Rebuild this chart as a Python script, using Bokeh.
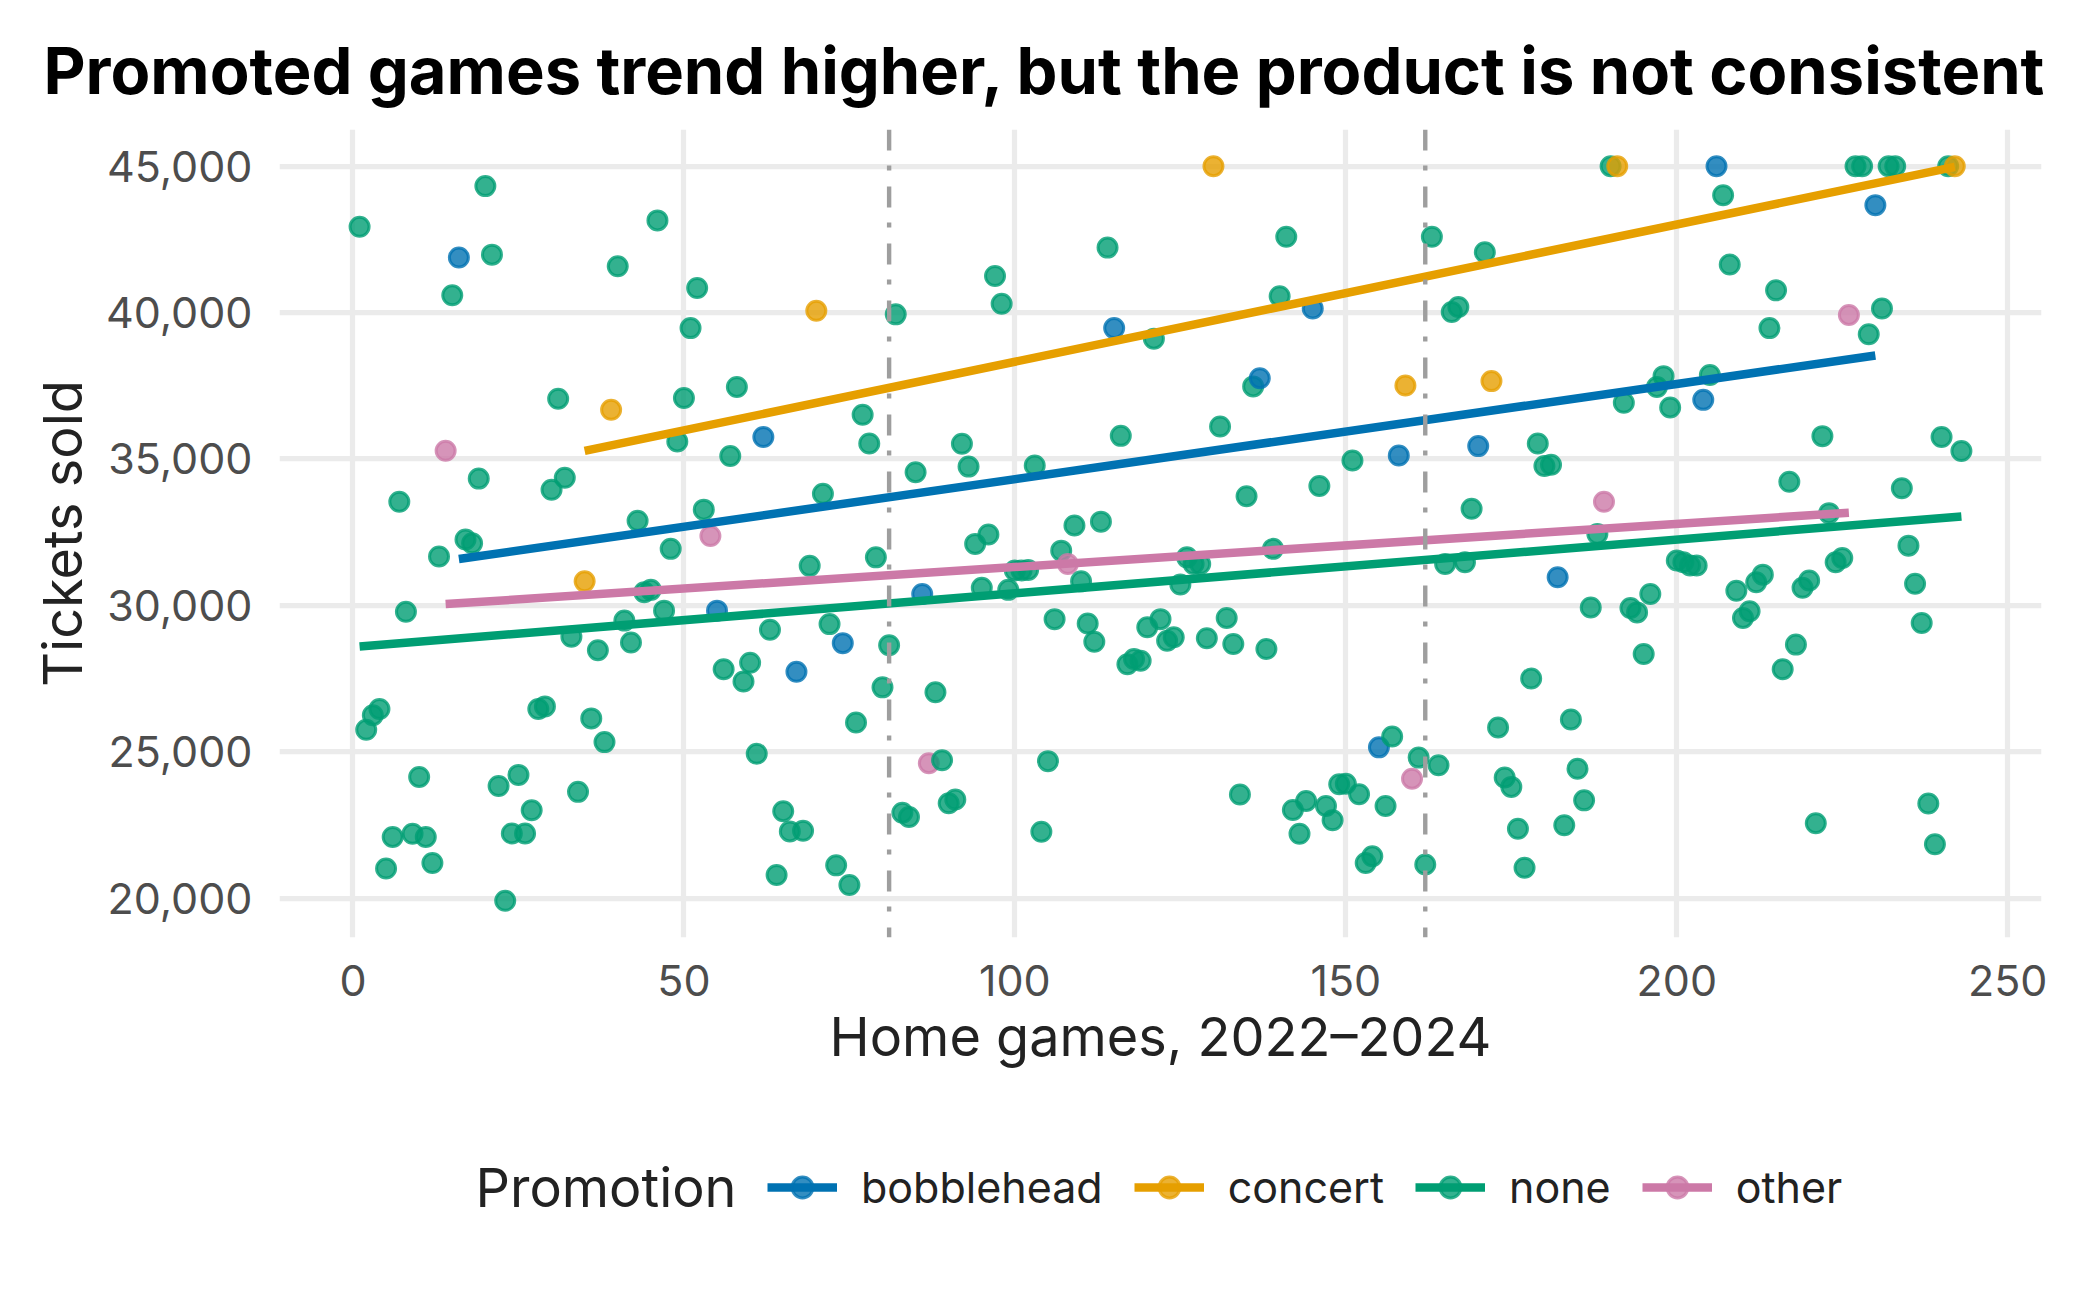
import numpy as np
from bokeh.plotting import figure
from bokeh.layouts import column
from bokeh.models import (Range1d, Span, Legend, LegendItem, NumeralTickFormatter,
                          FixedTicker, ColumnDataSource, Label)
from bokeh.embed import file_html
from bokeh.resources import INLINE

# Tickets sold per home game, one list per 81-game season
season_2022 = [
    42930, 25750, 26250, 26460, 21010, 22090, 33540, 29780, 22200, 24140,
    22090, 21200, 31670, 35280, 40590, 41880, 32250, 32120, 34330, 44320,
    41980, 23830, 19910, 22210, 24210, 22210, 23000, 26460, 26550, 33950,
    37060, 34360, 28930, 23630, 30820, 26140, 28470, 25330, 36680, 41580,
    29480, 28730, 32890, 30450, 30530, 43150, 29820, 31930, 35600, 37080,
    39470, 40840, 33270, 32370, 29820, 27820, 35100, 37460, 27400, 28040,
    24930, 35750, 29170, 20790, 22970, 22280, 27730, 22300, 31350, 40060,
    33810, 29360, 21120, 28710, 20450, 26000, 36510, 35530, 31640, 27200,
    28640,
]
season_2023 = [
    39940, 22920, 22770, 34550, 30390, 24610, 27030, 24710, 23240, 23370,
    35520, 34740, 32100, 30600, 32420, 41250, 40300, 30530, 31190, 31190,
    31210, 34780, 22270, 24680, 29530, 31870, 31410, 32730, 30820, 29380,
    28760, 32860, 42220, 39470, 35790, 27990, 28170, 28110, 29250, 39110,
    29530, 28790, 28910, 30710, 31640, 31410, 31410, 28880, 45000, 36110,
    29570, 28680, 23540, 33730, 37480, 37760, 28510, 31930, 40560, 42590,
    23010, 22200, 23320, 40140, 34080, 23150, 22660, 23890, 23910, 34950,
    23550, 21200, 21430, 25150, 23150, 25520, 35120, 37510, 24080, 24800,
    21150,
]
season_2024 = [
    42590, 24540, 31410, 40020, 40190, 31470, 33300, 35440, 42060, 37660,
    25830, 24120, 23800, 22370, 21040, 27500, 35530, 34760, 34800, 30960,
    22490, 26100, 24420, 23340, 29930, 32440, 33540, 45000, 45000, 36920,
    29910, 29760, 28340, 30390, 37460, 37830, 36760, 31530, 31470, 31360,
    31360, 37020, 37870, 45000, 44010, 41640, 30500, 29570, 29800, 30790,
    31050, 39470, 40760, 27820, 34220, 28660, 30600, 30850, 22560, 35780,
    33150, 31470, 31620, 39920, 45000, 45000, 39260, 43670, 40140, 45000,
    45000, 34000, 32040, 30740, 29400, 23230, 21840, 35750, 45000, 45000,
    35270,
]

# Promotion nights (game numbers); every other game had no promotion
bobblehead_games = [16, 55, 62, 67, 74, 86, 115, 137, 145, 155, 158, 170, 182, 204, 206, 230]
concert_games = [35, 39, 70, 130, 159, 172, 191, 242]
other_games = [14, 54, 87, 108, 160, 189, 226]

promotions = ["bobblehead", "concert", "none", "other"]
promo_colors = ["#0072B2", "#E69F00", "#009E73", "#CC79A7"]

season_breaks = [81, 162]
x_ticks = [0, 50, 100, 150, 200, 250]
y_ticks = [20000, 25000, 30000, 35000, 40000, 45000]

tickets = season_2022 + season_2023 + season_2024
games = list(range(1, len(tickets) + 1))

promo = ["none"] * len(games)
for name, lst in (("bobblehead", bobblehead_games), ("concert", concert_games), ("other", other_games)):
    for g in lst:
        promo[g - 1] = name
color_of = dict(zip(promotions, promo_colors))

FONT = "Inter"
TEXT = "#222222"
PT_SIZE = 19
LINE_W = 8.5

W, H_MAIN, H_LEG = 2100, 1120, 170
BORDER_L, BORDER_R = 279, 59

p = figure(width=W, height=H_MAIN, output_backend="svg", toolbar_location=None,
           x_range=Range1d(-11.1, 255.1), y_range=Range1d(18656, 46254),
           min_border_left=BORDER_L, min_border_right=BORDER_R,
           min_border_top=129, min_border_bottom=183,
           background_fill_color="white", border_fill_color="white", outline_line_color=None)

# points, drawn in game order
src = ColumnDataSource(dict(x=games, y=tickets, promo=promo, color=[color_of[k] for k in promo]))
p.scatter("x", "y", source=src, marker="circle", size=PT_SIZE,
          fill_color="color", fill_alpha=0.8, line_color="color", line_alpha=0.8, line_width=3)

# straight-line fit per promotion
xs_all = np.array(games)
ys_all = np.array(tickets, dtype=float)
pr_all = np.array(promo)
fits = {}
for name in promotions:
    m = pr_all == name
    gx, gy = xs_all[m], ys_all[m]
    slope, icpt = np.polyfit(gx, gy, 1)
    lx = np.array([gx.min(), gx.max()], dtype=float)
    fits[name] = (gx, gy, lx, slope * lx + icpt)
    p.line(lx, slope * lx + icpt, line_color=color_of[name], line_width=LINE_W)

for b in season_breaks:
    p.add_layout(Span(location=b, dimension="height", line_color="#9E9E9E",
                      line_width=4.4, line_dash="21 15 5 16"))

# axes
p.xaxis.ticker = FixedTicker(ticks=x_ticks)
p.yaxis.ticker = FixedTicker(ticks=y_ticks)
p.yaxis.formatter = NumeralTickFormatter(format="0,0")
p.xaxis.axis_label = "Home games, 2022\u20132024"
p.yaxis.axis_label = "Tickets sold"
for ax in (p.xaxis[0], p.yaxis[0]):
    ax.axis_line_color = None
    ax.major_tick_line_color = None
    ax.minor_tick_line_color = None
    ax.major_tick_out = 0
    ax.major_tick_in = 0
    ax.major_label_text_font = FONT
    ax.major_label_text_font_size = "43px"
    ax.major_label_text_color = "#4D4D4D"
    ax.axis_label_text_font = FONT
    ax.axis_label_text_font_size = "54px"
    ax.axis_label_text_font_style = "normal"
    ax.axis_label_text_color = TEXT
p.xaxis.major_label_standoff = 27
p.xaxis.axis_label_standoff = 5
p.yaxis.major_label_standoff = 27
p.yaxis.axis_label_standoff = 8

p.grid.grid_line_color = "#EBEBEB"
p.grid.grid_line_width = 5.25
p.xgrid.ticker = FixedTicker(ticks=x_ticks)
p.ygrid.ticker = FixedTicker(ticks=y_ticks)

# title
p.title.text = "Promoted games trend higher, but the product is not consistent"
p.title.text_font = FONT
p.title.text_font_size = "65px"
p.title.text_font_style = "bold"
p.title.text_color = "#000000"
p.title.align = "left"
p.title.offset = -236
p.title.standoff = 39

# legend strip underneath; its x range is in canvas pixels, y in pixels from its bottom
lf = figure(width=W, height=H_LEG, output_backend="svg", toolbar_location=None,
            x_range=Range1d(BORDER_L, W - BORDER_R), y_range=Range1d(0, H_LEG),
            x_axis_location=None, y_axis_location=None,
            min_border_left=BORDER_L, min_border_right=BORDER_R,
            min_border_top=0, min_border_bottom=0,
            background_fill_color="white", border_fill_color="white", outline_line_color=None)
lf.grid.grid_line_color = None

# key renderers reuse each group's data, which lies far outside this strip's y range
items = []
for name in promotions:
    c = color_of[name]
    gx, gy, lx, ly = fits[name]
    key_line = lf.line(lx, ly, line_color=c, line_width=LINE_W)
    key_dot = lf.scatter(gx, gy, marker="circle", size=PT_SIZE, fill_color=c, fill_alpha=0.8,
                         line_color=c, line_alpha=0.8, line_width=3)
    items.append(LegendItem(label=name, renderers=[key_line, key_dot]))

row_mid = H_LEG - 67      # vertical centre of the legend row
legend = Legend(items=items, orientation="horizontal", location=(767 - BORDER_L, row_mid - 26),
                border_line_color=None, background_fill_alpha=0, margin=0, padding=0,
                label_text_font=FONT, label_text_font_size="43px", label_text_color=TEXT,
                glyph_width=70, glyph_height=52, label_standoff=24, spacing=31)
lf.add_layout(legend, "center")
lf.add_layout(Label(x=475, y=row_mid, text="Promotion", text_font=FONT, text_font_size="54px",
                    text_color=TEXT, text_baseline="middle", text_align="left"))

open("out.html", "w").write(file_html(column(p, lf), INLINE))
